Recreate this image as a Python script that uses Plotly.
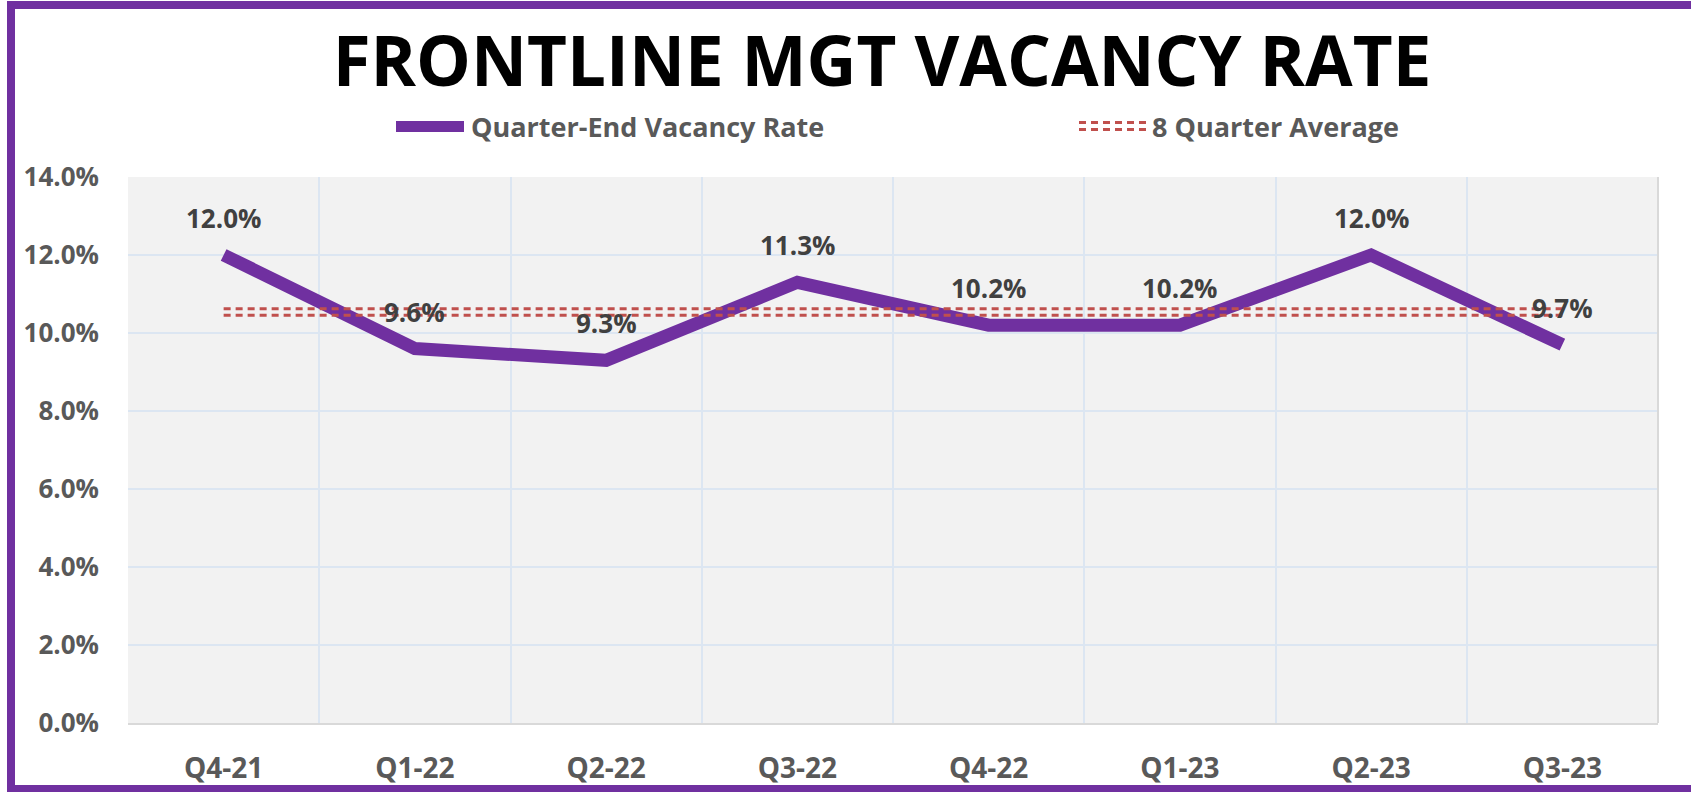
import plotly.graph_objects as go

categories = ["Q4-21", "Q1-22", "Q2-22", "Q3-22", "Q4-22", "Q1-23", "Q2-23", "Q3-23"]
vacancy_rate = [12.0, 9.6, 9.3, 11.3, 10.2, 10.2, 12.0, 9.7]
series_names = ["Quarter-End Vacancy Rate", "8 Quarter Average"]
title_text = "FRONTLINE MGT VACANCY RATE"

average = sum(vacancy_rate) / len(vacancy_rate)

W, H = 1691, 792
L, R, T, B = 128, 33, 177, 69
PW, PH = W - L - R, H - T - B

def px(x):
    return (x - L) / PW

def py(y):
    return (H - B - y) / PH

PURPLE = "#7030A0"
RED = "#C0504D"
FONT = "Open Sans"

fig = go.Figure()
fig.add_trace(go.Scatter(
    x=categories, y=vacancy_rate, mode="lines",
    line=dict(color=PURPLE, width=13), name=series_names[0], showlegend=False,
    hoverinfo="skip",
))

shapes = []
# double dashed average line
for off in (-3.2, 3.2):
    shapes.append(dict(
        type="line", xref="x", yref="y", x0=categories[0], x1=categories[-1],
        ysizemode="pixel", yanchor=average, y0=off, y1=off,
        line=dict(color=RED, width=3, dash="7px,5px"), layer="above",
    ))

annotations = []
for c, v in zip(categories, vacancy_rate):
    annotations.append(dict(
        x=c, y=v, text=f"<b>{v:.1f}%</b>", showarrow=False, yshift=37,
        font=dict(family=FONT, size=26, color="#404040"),
    ))

# manual legend
shapes.append(dict(type="rect", xref="paper", yref="paper",
                   x0=px(396), x1=px(464), y0=py(132), y1=py(121),
                   fillcolor=PURPLE, line=dict(width=0)))
annotations.append(dict(xref="paper", yref="paper", x=px(469), y=py(126),
                        xanchor="left", yanchor="middle", showarrow=False,
                        text=f"<b>{series_names[0]}</b>",
                        font=dict(family=FONT, size=27, color="#595959")))
for yy in (122.5, 129.5):
    shapes.append(dict(type="line", xref="paper", yref="paper",
                       x0=px(1079), x1=px(1148), y0=py(yy), y1=py(yy),
                       line=dict(color=RED, width=3, dash="7px,5px")))
annotations.append(dict(xref="paper", yref="paper", x=px(1150), y=py(126),
                        xanchor="left", yanchor="middle", showarrow=False,
                        text=f"<b>{series_names[1]}</b>",
                        font=dict(family=FONT, size=27, color="#595959")))

# right plot edge in grey
shapes.append(dict(type="line", xref="paper", yref="paper", x0=1, x1=1, y0=0, y1=1,
                   line=dict(color="#D9D9D9", width=2)))

# outer purple border
shapes.append(dict(type="rect", xref="paper", yref="paper",
                   x0=px(11), x1=px(W + 20), y0=py(789), y1=py(5),
                   line=dict(color=PURPLE, width=8), fillcolor="rgba(0,0,0,0)", layer="below"))

fig.update_layout(
    width=W, height=H,
    margin=dict(l=L, r=R, t=T, b=B, autoexpand=False),
    paper_bgcolor="white",
    plot_bgcolor="#F2F2F2",
    title=dict(text=f"<b>{title_text}</b>", x=882 / W, xanchor="center",
               yref="container", y=1 - 62 / H, yanchor="middle",
               font=dict(family=FONT, size=69, color="black")),
    shapes=shapes,
    annotations=annotations,
    showlegend=False,
    hovermode=False,
)
fig.update_xaxes(
    type="category", range=[-0.5, len(categories) - 0.5], automargin=False,
    tickson="boundaries", showgrid=True, gridcolor="#DCE6F2", gridwidth=2,
    ticks="", ticklabelstandoff=19,
    showline=True, linecolor="#D9D9D9", linewidth=2,
    tickfont=dict(family=FONT, size=28, color="#595959", weight="bold"),
    zeroline=False,
)
fig.update_yaxes(
    range=[0, 14], dtick=2, tickformat=".1f", ticksuffix="%", automargin=False,
    showgrid=True, gridcolor="#DCE6F2", gridwidth=2, zeroline=False,
    ticks="", ticklabelstandoff=28,
    tickfont=dict(family=FONT, size=26, color="#595959", weight="bold"),
)

fig.write_html("out.html", config={"displayModeBar": False},
               post_script="document.body.style.margin='0';document.body.style.overflow='hidden';")
